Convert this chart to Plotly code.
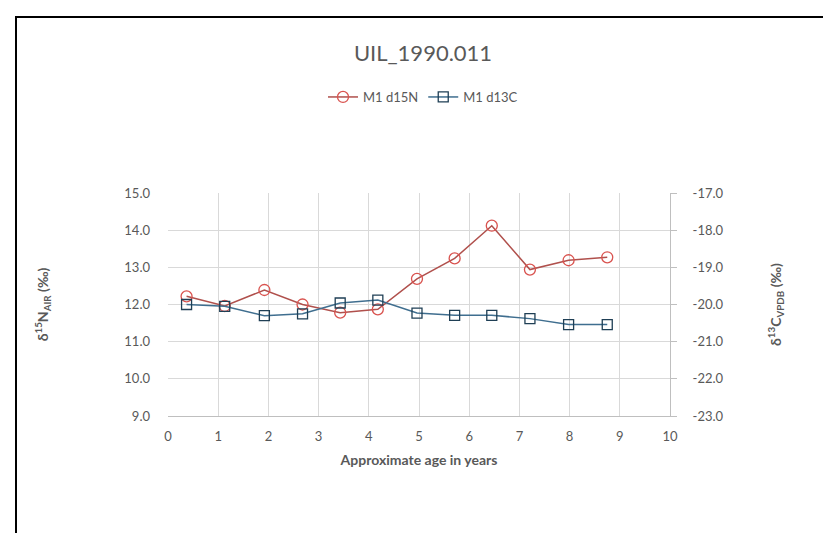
import plotly.graph_objects as go

age = [0.37, 1.13, 1.92, 2.68, 3.43, 4.18, 4.96, 5.71, 6.45, 7.21, 7.98, 8.75]
d15n = [12.22, 11.96, 12.39, 12.0, 11.78, 11.87, 12.69, 13.24, 14.12, 12.94, 13.19, 13.27]
d13c = [-20.0, -20.05, -20.30, -20.25, -19.96, -19.88, -20.23, -20.29, -20.29, -20.38, -20.54, -20.54]
right_tickvals = [-23, -22, -21, -20, -19, -18, -17]
right_ticktext = ["-23.0", "-22.0", "-21.0", "-20.0", "-19.0", "-18.0", "-17.0"]

W, H = 831, 533
L, R, T, B = 160, 662, 185, 408

font_main = "Lato, 'Open Sans', sans-serif"
grey = "#595959"

fig = go.Figure()
fig.add_trace(go.Scatter(
    x=age, y=d15n, name="M1 d15N", mode="lines+markers",
    line=dict(color="#b0504c", width=1.5),
    marker=dict(symbol="circle-open", size=11, color="#d9534f", line=dict(width=1.3)),
))
fig.add_trace(go.Scatter(
    x=age, y=d13c, name="M1 d13C", mode="lines+markers", yaxis="y2",
    line=dict(color="#3f6e8f", width=1.5),
    marker=dict(symbol="square-open", size=10, color="#1f3f55", line=dict(width=1.3)),
))

def px_to_paper_x(px):
    return (px - L) / (R - L)

def px_to_paper_y(py):
    return (B - py) / (B - T)

fig.update_layout(
    width=W, height=H,
    margin=dict(l=L, r=W - R, t=T, b=H - B, pad=0),
    paper_bgcolor="white", plot_bgcolor="white",
    font=dict(family=font_main, color=grey, size=13),
    title=dict(text="UIL_1990.011", x=415 / W, xanchor="center",
               y=1 - 45 / H, yanchor="middle",
               font=dict(size=22, color=grey, family=font_main)),
    showlegend=True,
    legend=dict(orientation="h", x=px_to_paper_x(415), xanchor="center",
                y=px_to_paper_y(89), yanchor="middle",
                font=dict(size=13, color=grey), itemwidth=30,
                bgcolor="rgba(0,0,0,0)"),
    xaxis=dict(range=[0, 10], dtick=1, tick0=0, showgrid=True, gridcolor="#d9d9d9",
               gridwidth=1, zeroline=False, showline=True, linecolor="#bfbfbf",
               ticks="", ticklabelstandoff=8, tickfont=dict(size=13, color=grey),
               title=dict(text="<b>Approximate age in years</b>", standoff=12,
                          font=dict(size=14, color=grey))),
    yaxis=dict(range=[9, 15], dtick=1, tick0=9, tickformat=".1f", showgrid=True,
               gridcolor="#d9d9d9", gridwidth=1, zeroline=False, showline=False,
               ticks="", ticklabelstandoff=17, tickfont=dict(size=13, color=grey),
               title=dict(text="<b>δ<sup>15</sup>N<sub>AIR</sub> (‰)</b>", standoff=72,
                          font=dict(size=14, color=grey))),
    yaxis2=dict(range=[-23, -17], overlaying="y", side="right", tickvals=right_tickvals,
                ticktext=right_ticktext, showgrid=False, zeroline=False, showline=True,
                linecolor="#bfbfbf", ticks="outside", ticklen=6, tickcolor="#bfbfbf",
                ticklabelstandoff=13, tickfont=dict(size=13, color=grey),
                title=dict(text="<b>δ<sup>13</sup>C<sub>VPDB</sub> (‰)</b>", standoff=48,
                           font=dict(size=14, color=grey))),
    shapes=[dict(type="rect", xref="paper", yref="paper",
                 x0=px_to_paper_x(8), x1=px_to_paper_x(W + 20),
                 y0=px_to_paper_y(H + 20), y1=px_to_paper_y(9),
                 line=dict(color="black", width=2), fillcolor="rgba(0,0,0,0)", layer="above")],
)

fig.write_html("out.html")
